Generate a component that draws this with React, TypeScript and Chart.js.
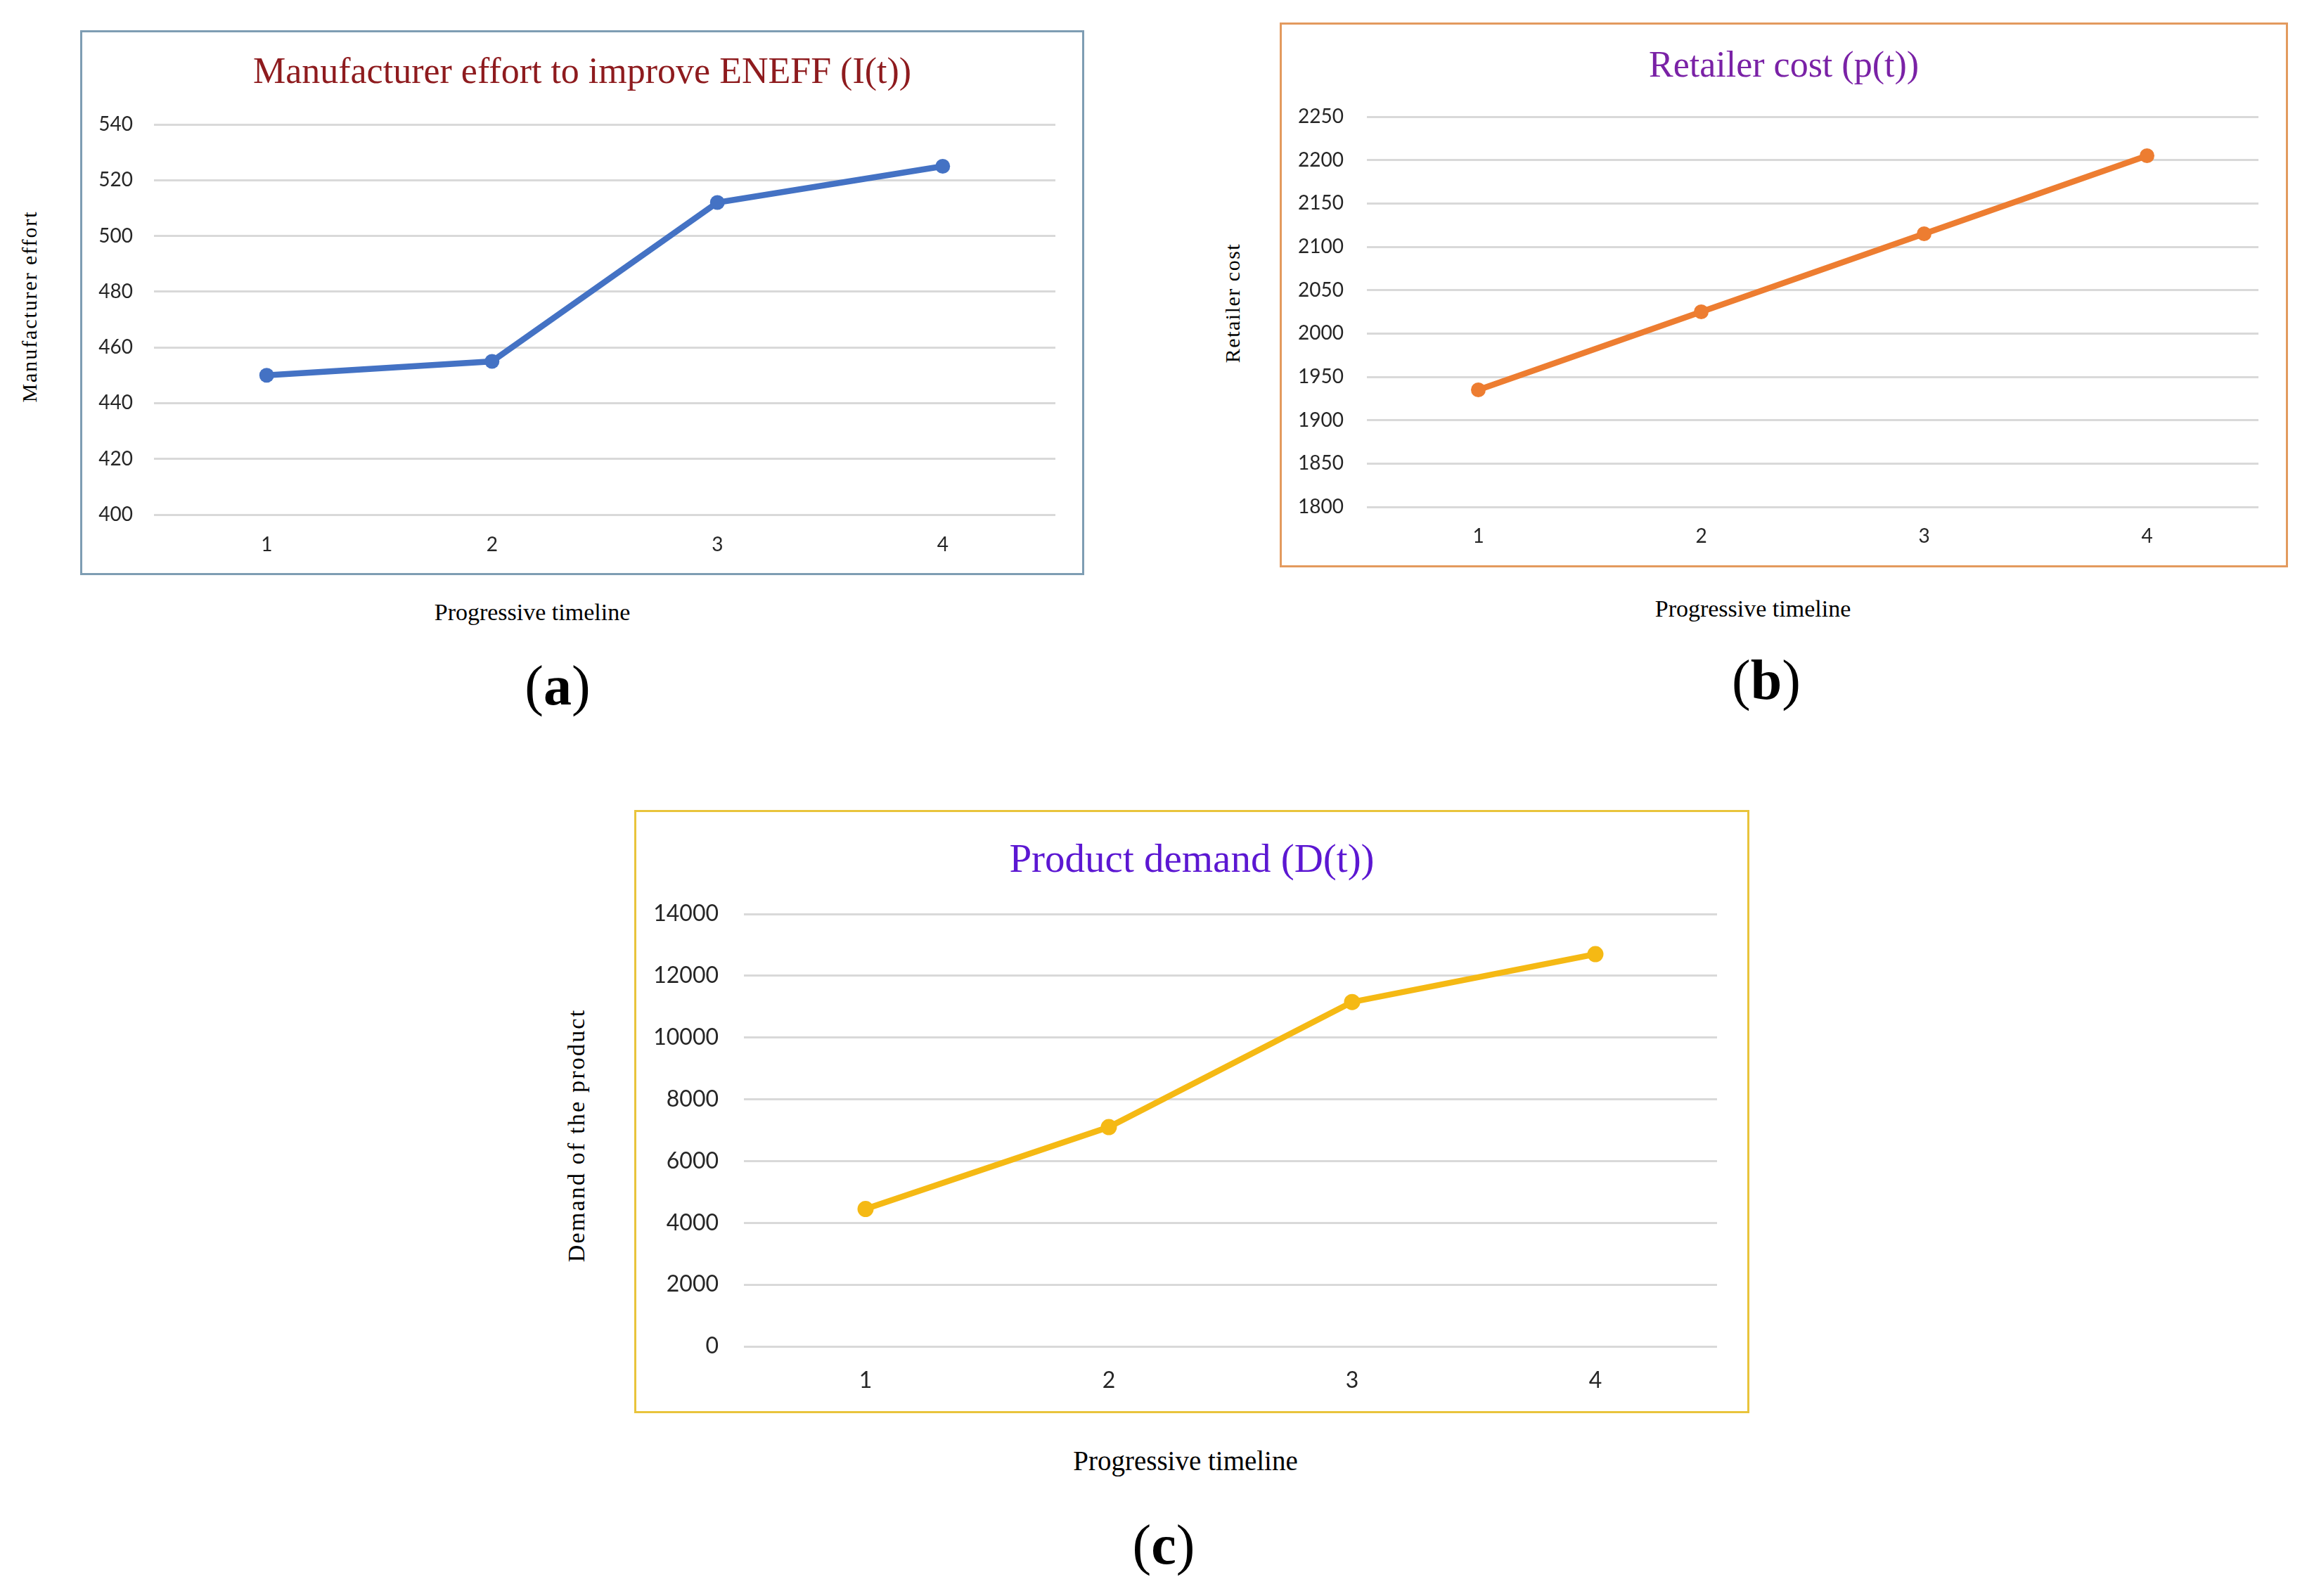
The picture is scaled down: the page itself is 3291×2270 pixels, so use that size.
import React, { useEffect, useRef } from "react";
import { Chart, registerables } from "chart.js";

Chart.register(...registerables);

// ---------- data ----------
const timeline = ["1", "2", "3", "4"];

const effortValues = [450, 455, 512, 525];
const effortTicks = [400, 420, 440, 460, 480, 500, 520, 540];

const retailerCostValues = [1935, 2025, 2115, 2205];
const retailerCostTicks = [1800, 1850, 1900, 1950, 2000, 2050, 2100, 2150, 2200, 2250];

const demandValues = [4450, 7100, 11150, 12700];
const demandTicks = [0, 2000, 4000, 6000, 8000, 10000, 12000, 14000];

const titleA = "Manufacturer effort to improve ENEFF (I(t))";
const titleB = "Retailer cost (p(t))";
const titleC = "Product demand (D(t))";
const yLabelA = "Manufacturer effort";
const yLabelB = "Retailer cost";
const yLabelC = "Demand of the product";
const xLabel = "Progressive timeline";

// ---------- styles ----------
const SERIF = "'Times New Roman', 'Liberation Serif', serif";
const SANS = "Lato, 'Open Sans', sans-serif";
const GRID = "#d9d9d9";
const TICK = "#262626";

type PanelCfg = {
  tag: string;
  title: string;
  titleColor: string;
  titleSize: number;
  titlePadTop: number;
  titlePadBottom: number;
  values: number[];
  ticks: number[];
  color: string;
  boxColor: string;
  box: { left: number; top: number; width: number; height: number };
  padRight: number;
  yAxisWidth: number;
  xAxisHeight: number;
  yTickPad: number;
  xTickPad: number;
  tickSize: number;
  pointRadius: number;
  yLabel: string;
  yLabelPos: { x: number; y: number; size: number; spacing: number };
  xLabelPos: { x: number; y: number; size: number };
  tagPos: { x: number; y: number };
};

const panels: PanelCfg[] = [
  {
    tag: "a",
    title: titleA,
    titleColor: "#8e1b1e",
    titleSize: 52,
    titlePadTop: 30.5,
    titlePadBottom: 41.1,
    values: effortValues,
    ticks: effortTicks,
    color: "#4472c4",
    boxColor: "#7e9db3",
    box: { left: 114, top: 43, width: 1428, height: 775 },
    padRight: 41,
    yAxisWidth: 105,
    xAxisHeight: 86,
    yTickPad: 30,
    xTickPad: 18.5,
    tickSize: 28,
    pointRadius: 10.5,
    yLabel: yLabelA,
    yLabelPos: { x: 42, y: 436, size: 30, spacing: 1.9 },
    xLabelPos: { x: 757, y: 871, size: 34 },
    tagPos: { x: 793, y: 975 },
  },
  {
    tag: "b",
    title: titleB,
    titleColor: "#7a22a6",
    titleSize: 52,
    titlePadTop: 32.5,
    titlePadBottom: 39.1,
    values: retailerCostValues,
    ticks: retailerCostTicks,
    color: "#ed7d31",
    boxColor: "#e39a5e",
    box: { left: 1820, top: 32, width: 1434, height: 775 },
    padRight: 42,
    yAxisWidth: 124,
    xAxisHeight: 86,
    yTickPad: 33,
    xTickPad: 17.5,
    tickSize: 28,
    pointRadius: 10.5,
    yLabel: yLabelB,
    yLabelPos: { x: 1753, y: 431, size: 30, spacing: 1.5 },
    xLabelPos: { x: 2493, y: 866, size: 34 },
    tagPos: { x: 2512, y: 967 },
  },
  {
    tag: "c",
    title: titleC,
    titleColor: "#5c17d2",
    titleSize: 57,
    titlePadTop: 38.5,
    titlePadBottom: 41.1,
    values: demandValues,
    ticks: demandTicks,
    color: "#f5b914",
    boxColor: "#e9c43c",
    box: { left: 902, top: 1152, width: 1586, height: 858 },
    padRight: 46,
    yAxisWidth: 156,
    xAxisHeight: 95,
    yTickPad: 36,
    xTickPad: 21.5,
    tickSize: 32,
    pointRadius: 11.5,
    yLabel: yLabelC,
    yLabelPos: { x: 820, y: 1615, size: 34, spacing: 2.2 },
    xLabelPos: { x: 1686, y: 2077, size: 39 },
    tagPos: { x: 1655, y: 2197 },
  },
];

// Centre the chart title over the whole chart box (as the spreadsheet does),
// independent of the asymmetric layout padding.
const centerTitlePlugin = {
  id: "centerTitle",
  afterLayout(chart: any) {
    const t = chart.titleBlock;
    if (t) {
      t.left = 0;
      t.right = chart.width;
      t.width = chart.width;
    }
  },
};

function Panel({ p }: { p: PanelCfg }) {
  const ref = useRef<HTMLCanvasElement>(null);

  useEffect(() => {
    const canvas = ref.current;
    if (!canvas) return;
    const tickFont = { family: SANS, size: p.tickSize };
    const chart = new Chart(canvas, {
      type: "line",
      data: {
        labels: timeline,
        datasets: [
          {
            data: p.values,
            borderColor: p.color,
            backgroundColor: p.color,
            borderWidth: 8.5,
            pointRadius: p.pointRadius,
            pointBackgroundColor: p.color,
            pointBorderColor: p.color,
            pointBorderWidth: 0,
            tension: 0,
            fill: false,
          },
        ],
      },
      options: {
        animation: false,
        responsive: false,
        devicePixelRatio: 1,
        layout: { padding: { left: 0, right: p.padRight, top: 0, bottom: 0 } },
        plugins: {
          legend: { display: false },
          tooltip: { enabled: false },
          title: {
            display: true,
            text: p.title,
            color: p.titleColor,
            font: { family: SERIF, size: p.titleSize, weight: "normal" },
            padding: { top: p.titlePadTop, bottom: p.titlePadBottom },
          },
        },
        scales: {
          x: {
            type: "category",
            offset: true,
            grid: { display: false },
            border: { display: false },
            ticks: {
              color: TICK,
              font: tickFont,
              padding: p.xTickPad,
              maxRotation: 0,
            },
            afterFit: (s: any) => {
              s.height = p.xAxisHeight;
            },
          },
          y: {
            min: p.ticks[0],
            max: p.ticks[p.ticks.length - 1],
            grid: { color: GRID, lineWidth: 3, drawTicks: false },
            border: { display: false },
            ticks: {
              stepSize: p.ticks[1] - p.ticks[0],
              padding: p.yTickPad,
              color: TICK,
              font: tickFont,
              format: { useGrouping: false },
              autoSkip: false,
            },
            afterFit: (s: any) => {
              s.width = p.yAxisWidth;
            },
          },
        },
      },
      plugins: [centerTitlePlugin],
    } as any);
    return () => chart.destroy();
  }, [p]);

  const b = p.box;
  return (
    <>
      <div
        style={{
          position: "absolute",
          left: b.left,
          top: b.top,
          width: b.width,
          height: b.height,
        }}
      >
        <canvas
          ref={ref}
          width={b.width}
          height={b.height}
          style={{ display: "block", width: b.width, height: b.height }}
        />
        <div
          style={{
            position: "absolute",
            left: 0,
            top: 0,
            width: b.width,
            height: b.height,
            boxSizing: "border-box",
            border: `3px solid ${p.boxColor}`,
            pointerEvents: "none",
          }}
        />
      </div>
      <div
        style={{
          position: "absolute",
          left: p.yLabelPos.x,
          top: p.yLabelPos.y,
          transform: "translate(-50%, -50%) rotate(-90deg)",
          fontFamily: SERIF,
          fontSize: p.yLabelPos.size,
          letterSpacing: p.yLabelPos.spacing,
          whiteSpace: "nowrap",
          lineHeight: 1,
          color: "#000",
        }}
      >
        {p.yLabel}
      </div>
      <div
        style={{
          position: "absolute",
          left: p.xLabelPos.x,
          top: p.xLabelPos.y,
          transform: "translate(-50%, -50%)",
          fontFamily: SERIF,
          fontSize: p.xLabelPos.size,
          whiteSpace: "nowrap",
          lineHeight: 1,
          color: "#000",
        }}
      >
        {xLabel}
      </div>
      <div
        style={{
          position: "absolute",
          left: p.tagPos.x,
          top: p.tagPos.y,
          transform: "translate(-50%, -50%)",
          fontFamily: SERIF,
          fontSize: 80,
          whiteSpace: "nowrap",
          lineHeight: 1,
          color: "#000",
        }}
      >
        (<b>{p.tag}</b>)
      </div>
    </>
  );
}

export default function App() {
  return (
    <div
      style={{
        position: "absolute",
        left: 0,
        top: 0,
        width: 3291,
        height: 2270,
        background: "#fff",
        overflow: "hidden",
      }}
    >
      {panels.map((p) => (
        <Panel key={p.tag} p={p} />
      ))}
    </div>
  );
}
